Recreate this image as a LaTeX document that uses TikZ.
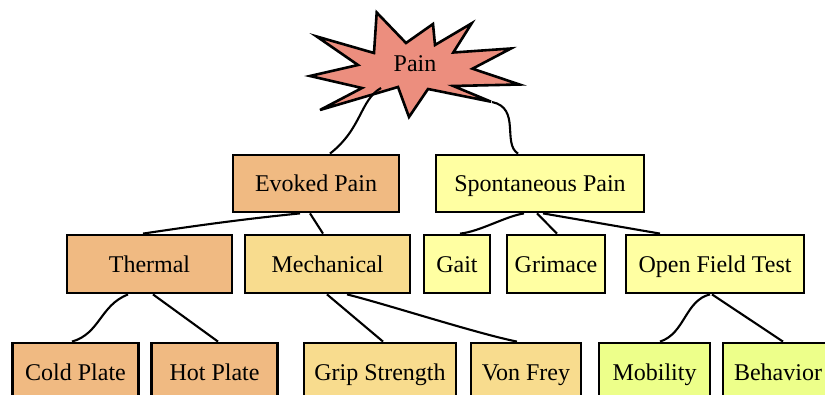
\documentclass[tikz,border=0pt]{standalone}
\usepackage{fontspec}
\setmainfont{Liberation Serif}
\usetikzlibrary{calc}
\definecolor{painc}{HTML}{EC8E7E}
\definecolor{evc}{HTML}{F0BA82}
\definecolor{mec}{HTML}{F8DC8E}
\definecolor{spc}{HTML}{FFFFA2}
\definecolor{moc}{HTML}{EDFF8A}
\begin{document}
\begin{tikzpicture}[x=1pt,y=-1pt,
  box/.style={draw=black,line width=2.8pt,rectangle,inner sep=0pt,
    text height=20pt,text depth=3pt,
    font=\fontsize{24}{28}\selectfont},
  conn/.style={draw=black,line width=2.1pt}]
\useasboundingbox (0,0) rectangle (825,395);
\clip (0,0) rectangle (825,395);
% star
\path[draw=black,line width=2.6pt,fill=painc,line join=miter]
  (376.7,12.5) -- (406,43) -- (433,24) -- (435,45) -- (471.7,23.3) -- (453.3,52.5)
  -- (511,48.5) -- (472.5,68.7) -- (519.5,84.5) -- (453.3,86) -- (491,101.7)
  -- (428,89) -- (409,117) -- (398,87) -- (320,110) -- (362,88) -- (310,76)
  -- (358,65) -- (316.7,36.5) -- (374,53) -- cycle;
\node[font=\fontsize{24}{28}\selectfont,inner sep=0pt,text height=20pt,text depth=3pt] (pain) at (415,63) {Pain};
\coordinate (pl) at (381,88);
\coordinate (pr) at (492,102);
% boxes
\node[box,fill=evc,minimum width=166pt,minimum height=57pt] (ev) at (316,183.5) {Evoked Pain};
\node[box,fill=spc,minimum width=208pt,minimum height=57pt] (sp) at (540,183.5) {Spontaneous Pain};
\node[box,fill=evc,minimum width=165pt,minimum height=58pt] (th) at (149.5,264) {Thermal};
\node[box,fill=mec,minimum width=165pt,minimum height=58pt] (me) at (327.5,264) {Mechanical};
\node[box,fill=spc,minimum width=66pt,minimum height=58pt] (ga) at (457,264) {Gait};
\node[box,fill=spc,minimum width=98pt,minimum height=58pt] (gr) at (556,264) {Grimace};
\node[box,fill=spc,minimum width=178pt,minimum height=58pt] (of) at (715,264) {Open Field Test};
\node[box,fill=evc,minimum width=125.5pt,minimum height=58pt] (co) at (75.5,372) {Cold Plate};
\node[box,fill=evc,minimum width=125.5pt,minimum height=58pt] (ho) at (214.5,372) {Hot Plate};
\node[box,fill=mec,minimum width=152pt,minimum height=58pt] (gs) at (380,372) {Grip Strength};
\node[box,fill=mec,minimum width=110pt,minimum height=58pt] (vf) at (526,372) {Von Frey};
\node[box,fill=moc,minimum width=111pt,minimum height=58pt] (mo) at (654.5,372) {Mobility};
\node[box,fill=moc,minimum width=110pt,minimum height=58pt] (be) at (778,372) {Behavior};
% connectors
\draw[conn] (pl) .. controls +(-21,12) and +(32,-25) .. ([xshift=14pt]ev.north);
\draw[conn] (pr) .. controls +(29,6) and +(-16,-10) .. ([xshift=-22pt]sp.north);
\draw[conn] ([xshift=-16pt]ev.south) .. controls +(-60,6) and +(47,-7) .. ([xshift=-6.5pt]th.north);
\draw[conn] ([xshift=-6pt]ev.south) -- ([xshift=-4.5pt]me.north);
\draw[conn] ([xshift=-16pt]sp.south) .. controls +(-19,3) and +(20,-2) .. ([xshift=3pt]ga.north);
\draw[conn] ([xshift=-3pt]sp.south) -- ([xshift=1pt]gr.north);
\draw[conn] ([xshift=3pt]sp.south) -- ([xshift=-55pt]of.north);
\draw[conn] ([xshift=-21.5pt]th.south) .. controls +(-28,11) and +(28,-8) .. ([xshift=-3.5pt]co.north);
\draw[conn] ([xshift=3.5pt]th.south) -- ([xshift=3.5pt]ho.north);
\draw[conn] ([xshift=-0.5pt]me.south) -- ([xshift=3pt]gs.north);
\draw[conn] ([xshift=19.5pt]me.south) .. controls +(40,10) and +(-40,-8) .. ([xshift=-9pt]vf.north);
\draw[conn] ([xshift=-5pt]of.south) .. controls +(-25,6) and +(25,-8) .. ([xshift=5.5pt]mo.north);
\draw[conn] ([xshift=-3pt]of.south) -- ([xshift=5pt]be.north);
\end{tikzpicture}
\end{document}
